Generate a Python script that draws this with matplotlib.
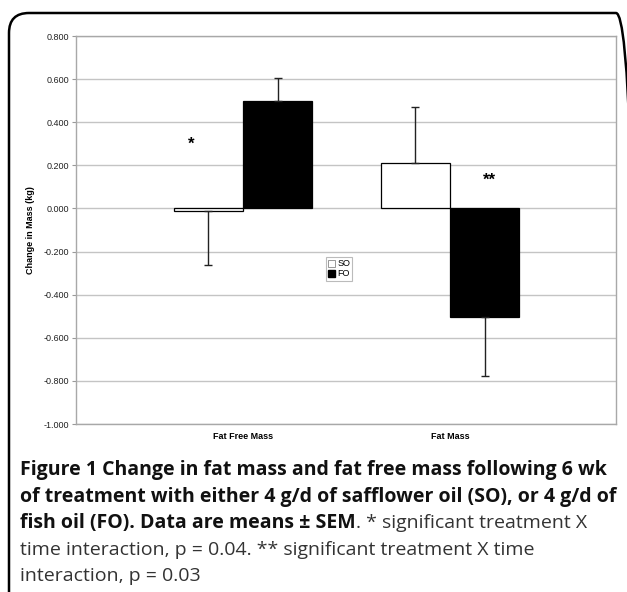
import matplotlib
matplotlib.use('Agg')
import matplotlib.pyplot as plt
import numpy as np
from matplotlib.patches import FancyBboxPatch, Patch

categories = ['Fat Free Mass', 'Fat Mass']
series = ['SO', 'FO']
so_mean = [-0.010, 0.212]
so_sem = [0.254, 0.258]
fo_mean = [0.497, -0.502]
fo_sem = [0.108, 0.275]
yticks = [0.8, 0.6, 0.4, 0.2, 0.0, -0.2, -0.4, -0.6, -0.8, -1.0]
stars = [('*', -0.25, 0.30), ('**', 1.19, 0.13)]

caption_bold = ['Figure 1 Change in fat mass and fat free mass following 6 wk',
                'of treatment with either 4 g/d of safflower oil (SO), or 4 g/d of',
                'fish oil (FO). Data are means \u00b1 SEM']
caption_plain = ['. * significant treatment X',
                 'time interaction, p = 0.04. ** significant treatment X time',
                 'interaction, p = 0.03']

plt.rcParams['font.family'] = ['Liberation Sans', 'DejaVu Sans']

fig = plt.figure(figsize=(6.27, 5.92), dpi=100)
ax = fig.add_axes([76 / 627, 1 - 424 / 592, 540 / 627, 388 / 592])

x = np.arange(len(categories))
w = 0.335
# error bars only point away from zero
so_err = [[0 if m >= 0 else s for m, s in zip(so_mean, so_sem)],
          [s if m >= 0 else 0 for m, s in zip(so_mean, so_sem)]]
fo_err = [[0 if m >= 0 else s for m, s in zip(fo_mean, fo_sem)],
          [s if m >= 0 else 0 for m, s in zip(fo_mean, fo_sem)]]
ek = dict(ecolor='#222222', elinewidth=1, capsize=3, capthick=1)
ax.bar(x - w / 2, so_mean, w, color='white', edgecolor='black', linewidth=0.9,
       yerr=so_err, error_kw=ek, zorder=3)
ax.bar(x + w / 2, fo_mean, w, color='black', edgecolor='black', linewidth=0.9,
       yerr=fo_err, error_kw=ek, zorder=3)

for s, sx, sy in stars:
    ax.text(sx, sy, s, ha='center', va='center', fontsize=12, fontweight='bold')

ax.set_xlim(-0.807, 1.802)
ax.set_ylim(-1.0, 0.8)
ax.set_yticks(yticks)
ax.set_yticklabels(['%.3f' % v for v in yticks], fontsize=6.5, color='#222222')
ax.yaxis.grid(True, color='#c4c4c4', linewidth=1)
ax.set_axisbelow(True)
ax.tick_params(axis='y', length=3, width=0.8, color='#999999', pad=2)
ax.set_xticks(x)
ax.set_xticklabels(categories, fontsize=6.5, fontweight='bold')
ax.tick_params(axis='x', length=0, pad=6)
for sp in ax.spines.values():
    sp.set_color('#a8a8a8')
    sp.set_linewidth(1)
ax.set_ylabel('Change in Mass (kg)', fontsize=6.5, fontweight='bold', labelpad=6)

handles = [Patch(facecolor='white', edgecolor='#888888', linewidth=0.6),
           Patch(facecolor='black', edgecolor='black')]
leg = ax.legend(handles, series, loc='upper left', bbox_to_anchor=(0.463, 0.43),
                fontsize=6.5, handlelength=0.8, handleheight=0.8, handletextpad=0.2,
                borderpad=0.25, labelspacing=0.1, borderaxespad=0, fancybox=False,
                framealpha=1, edgecolor='#bbbbbb')
leg.get_frame().set_linewidth(0.8)

# outer rounded frame
frame = FancyBboxPatch((0.09, -0.5), 6.27, 5.79 + 0.5,
                       boxstyle='round,pad=0,rounding_size=0.2',
                       transform=fig.dpi_scale_trans, facecolor='none',
                       edgecolor='black', linewidth=1.8, clip_on=False)
fig.patches.append(frame)

cap_font = ['Open Sans', 'DejaVu Sans']
cap_size = 14
line_y = [470, 497, 523, 550, 576]
renderer = fig.canvas.get_renderer()
x0 = 20 / 627
for i, yy in enumerate(line_y):
    fy = 1 - yy / 592
    if i < 2:
        fig.text(x0, fy, caption_bold[i], fontsize=cap_size, fontweight='bold',
                 family=cap_font, va='center', color='#111111')
    elif i == 2:
        t = fig.text(x0, fy, caption_bold[i], fontsize=cap_size, fontweight='bold',
                     family=cap_font, va='center', color='#111111')
        bb = t.get_window_extent(renderer)
        fig.text(bb.x1 / fig.bbox.width, fy, caption_plain[0], fontsize=cap_size,
                 family=cap_font, va='center', color='#333333')
    else:
        fig.text(x0, fy, caption_plain[i - 2], fontsize=cap_size,
                 family=cap_font, va='center', color='#333333')

fig.savefig('out.png', dpi=100)
